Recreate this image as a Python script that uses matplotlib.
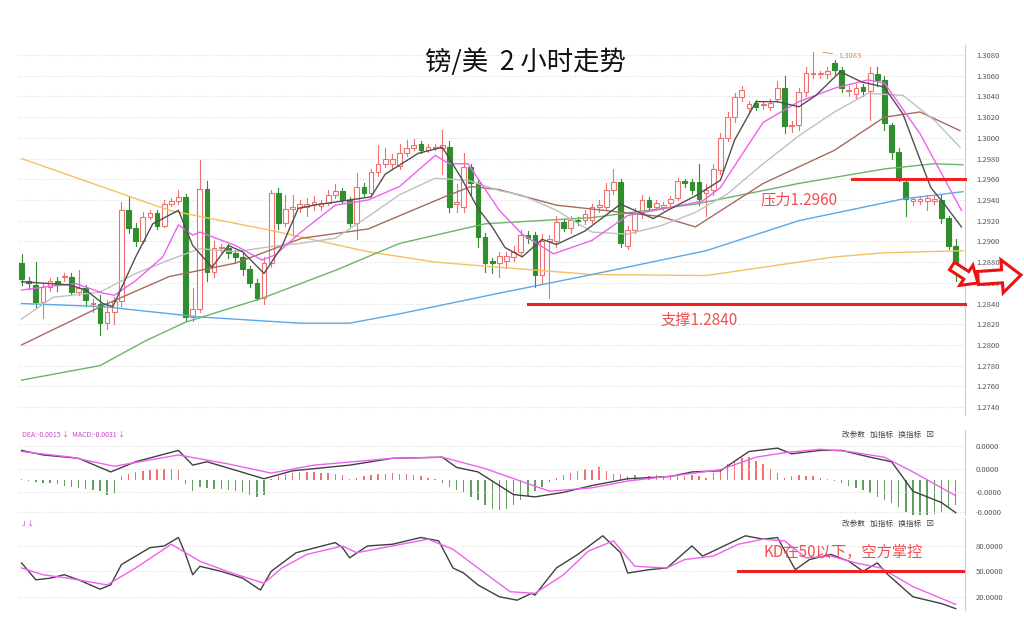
import matplotlib
matplotlib.use("Agg")
import matplotlib.pyplot as plt
from matplotlib.patches import Rectangle, FancyArrow
from matplotlib.transforms import IdentityTransform
import numpy as np

plt.rcParams['font.family'] = ['Noto Sans CJK SC', 'DejaVu Sans']

opens = [1.2879,1.2862,1.2858,1.2841,1.2856,1.2862,1.2866,1.2866,1.2851,1.2855,1.2840,1.2840,1.2821,1.2832,1.2842,1.2930,1.2913,1.2900,1.2924,1.2927,
 1.2915,1.2936,1.2939,1.2943,1.2827,1.2835,1.2951,1.2870,1.2894,1.2894,1.2889,1.2885,1.2873,1.2860,1.2845,1.2879,1.2947,1.2918,1.2931,1.2932,
 1.2933,1.2936,1.2934,1.2937,1.2945,1.2949,1.2940,1.2918,1.2953,1.2947,1.2967,1.2975,1.2975,1.2973,1.2985,1.2990,1.2994,1.2988,1.2991,1.2990,
 1.2991,1.2937,1.2933,1.2972,1.2956,1.2904,1.2881,1.2879,1.2881,1.2885,1.2890,1.2906,1.2906,1.2868,1.2900,1.2900,1.2919,1.2913,1.2921,1.2921,
 1.2921,1.2933,1.2933,1.2950,1.2957,1.2896,1.2911,1.2927,1.2940,1.2933,1.2933,1.2937,1.2942,1.2958,1.2957,1.2957,1.2947,1.2950,1.2969,1.3000,
 1.3020,1.3039,1.3029,1.3034,1.3032,1.3030,1.3038,1.3048,1.3012,1.3012,1.3044,1.3062,1.3062,1.3062,1.3072,1.3066,1.3046,1.3042,1.3049,1.3045,
 1.3062,1.3056,1.3012,1.2986,1.2957,1.2940,1.2940,1.2939,1.2940,1.2940,1.2923,1.2896]
closes = [1.2864,1.2860,1.2841,1.2856,1.2862,1.2858,1.2866,1.2851,1.2855,1.2843,1.2840,1.2821,1.2832,1.2842,1.2930,1.2913,1.2900,1.2924,1.2927,1.2915,
 1.2936,1.2939,1.2943,1.2827,1.2835,1.2951,1.2870,1.2894,1.2894,1.2889,1.2885,1.2873,1.2860,1.2845,1.2879,1.2947,1.2918,1.2931,1.2933,1.2936,
 1.2936,1.2938,1.2937,1.2945,1.2949,1.2940,1.2918,1.2953,1.2947,1.2967,1.2975,1.2980,1.2980,1.2985,1.2990,1.2993,1.2988,1.2991,1.2991,1.2993,
 1.2933,1.2937,1.2972,1.2956,1.2904,1.2879,1.2879,1.2886,1.2886,1.2890,1.2906,1.2903,1.2868,1.2900,1.2902,1.2919,1.2913,1.2921,1.2920,1.2926,
 1.2933,1.2935,1.2950,1.2957,1.2898,1.2911,1.2927,1.2940,1.2933,1.2937,1.2935,1.2941,1.2958,1.2956,1.2950,1.2941,1.2950,1.2970,1.3000,1.3020,
 1.3039,1.3046,1.3033,1.3030,1.3032,1.3034,1.3048,1.3011,1.3012,1.3044,1.3063,1.3062,1.3062,1.3065,1.3066,1.3048,1.3046,1.3048,1.3045,1.3063,
 1.3056,1.3014,1.2986,1.2961,1.2941,1.2940,1.2940,1.2942,1.2940,1.2923,1.2896,1.2872]
highs = [1.2888,1.2866,1.2880,1.2860,1.2865,1.2866,1.2869,1.2869,1.2872,1.2858,1.2844,1.2848,1.2843,1.2846,1.2938,1.2943,1.2918,1.2928,1.2930,1.2930,
 1.2940,1.2942,1.2950,1.2946,1.2855,1.2979,1.2958,1.2900,1.2897,1.2897,1.2892,1.2889,1.2876,1.2864,1.2885,1.2950,1.2952,1.2945,1.2945,1.2940,
 1.2942,1.2944,1.2940,1.2950,1.2955,1.2952,1.2943,1.2966,1.2956,1.2970,1.2993,1.2990,1.2984,1.2994,1.2998,1.2999,1.2997,1.2994,1.2994,1.3008,
 1.2997,1.2955,1.2985,1.2975,1.2960,1.2908,1.2884,1.2890,1.2890,1.2896,1.2911,1.2910,1.2909,1.2907,1.2906,1.2925,1.2922,1.2925,1.2924,1.2930,
 1.2936,1.2940,1.2956,1.2970,1.2960,1.2915,1.2932,1.2945,1.2943,1.2940,1.2938,1.2944,1.2961,1.2960,1.2960,1.2975,1.2955,1.2975,1.3005,1.3025,
 1.3043,1.3050,1.3036,1.3037,1.3035,1.3038,1.3055,1.3060,1.3016,1.3048,1.3068,1.3083,1.3065,1.3068,1.3075,1.3068,1.3050,1.3052,1.3052,1.3068,
 1.3068,1.3060,1.3014,1.2990,1.2960,1.2943,1.2944,1.2945,1.2945,1.2945,1.2925,1.2902]
lows = [1.2858,1.2854,1.2836,1.2826,1.2852,1.2852,1.2862,1.2848,1.2848,1.2838,1.2832,1.2810,1.2815,1.2820,1.2838,1.2908,1.2896,1.2898,1.2922,1.2912,
 1.2914,1.2934,1.2936,1.2823,1.2823,1.2832,1.2862,1.2866,1.2890,1.2884,1.2880,1.2868,1.2856,1.2843,1.2840,1.2875,1.2912,1.2915,1.2905,1.2928,
 1.2925,1.2930,1.2930,1.2935,1.2942,1.2937,1.2915,1.2902,1.2944,1.2944,1.2963,1.2972,1.2970,1.2970,1.2982,1.2988,1.2985,1.2986,1.2988,1.2965,
 1.2928,1.2928,1.2928,1.2945,1.2895,1.2870,1.2869,1.2866,1.2874,1.2881,1.2887,1.2898,1.2856,1.2860,1.2845,1.2895,1.2910,1.2908,1.2916,1.2917,
 1.2918,1.2928,1.2930,1.2946,1.2895,1.2893,1.2908,1.2923,1.2930,1.2930,1.2930,1.2934,1.2940,1.2953,1.2946,1.2935,1.2925,1.2945,1.2965,1.2997,
 1.3015,1.3036,1.3025,1.3027,1.3028,1.3027,1.3035,1.3005,1.3006,1.3008,1.3040,1.3058,1.3058,1.3058,1.3062,1.3044,1.3040,1.3038,1.3040,1.3017,
 1.3050,1.3008,1.2980,1.2958,1.2925,1.2935,1.2936,1.2930,1.2936,1.2918,1.2893,1.2862]

# moving averages (read at sample points): candle index, price
ma5_i = [0,6.7,9,11.4,12.8,16,18.4,22,24,26.7,29,31,34,36.5,38.8,41,46,49,51,55.6,59,61.6,64,66,67.8,70.2,73,75,79,84,88.6,90.6,94.5,98,100,103,106,109,111.4,114.8,117.8,121,123.6,125.5,127.5,129.4,131.8]
ma5_v = [1.2861,1.2858,1.2853,1.2840,1.2837,1.2885,1.2917,1.2930,1.2896,1.2875,1.2896,1.2890,1.2869,1.2895,1.2932,1.2935,1.2940,1.2943,1.2965,1.2985,1.2991,1.2962,1.2932,1.2914,1.2894,1.2885,1.2902,1.2897,1.2910,1.2936,1.2922,1.2930,1.2944,1.2959,1.2998,1.3035,1.3035,1.3030,1.3041,1.3064,1.3054,1.3049,1.3023,1.2988,1.2952,1.2936,1.2914]
ma10_i = [0,4.4,7.7,11.4,13,16,19.8,22,24,25,30,33.7,35.6,39,44,48.6,53,58,60,62.6,67,70.2,74.6,80,85,89.6,95.5,98,101.7,104,109,114,118.7,121,126,131.8]
ma10_v = [1.2853,1.2857,1.2859,1.2850,1.2848,1.2862,1.2885,1.2916,1.2906,1.2909,1.2896,1.2882,1.2887,1.2908,1.2935,1.2940,1.2953,1.2983,1.2975,1.2975,1.2930,1.2907,1.2888,1.2901,1.2925,1.2931,1.2939,1.2952,1.2991,1.3015,1.3035,1.3048,1.3056,1.3053,1.3004,1.2930]
ma20_i = [0,4.4,11,16,20.7,25,30,35,39,44,48.6,53,58,62.6,67,70,75,80,85,89.6,94.5,99,104,109,114,118.7,123.6,128,131.6]
ma20_v = [1.2825,1.2846,1.2851,1.2869,1.2882,1.2893,1.2890,1.2895,1.2898,1.2903,1.2924,1.2945,1.2961,1.2959,1.2949,1.2945,1.2930,1.2909,1.2907,1.2915,1.2928,1.2946,1.2975,1.3002,1.3025,1.3043,1.3041,1.3017,1.2991]
ma30_i = [0,11.4,20.7,30,39.3,48.6,59.3,63,67,75,89.6,94.5,104,114,121,126,131.6]
ma30_v = [1.2800,1.2838,1.2866,1.2879,1.2903,1.2912,1.2943,1.2953,1.2950,1.2935,1.2924,1.2914,1.2956,1.2988,1.3020,1.3025,1.3007]
ma60_i = [0,11,17.4,23,33.7,44,53,65,80,94.5,109,121,128,132]
ma60_v = [1.2766,1.2780,1.2804,1.2822,1.2845,1.2872,1.2898,1.2917,1.2923,1.2936,1.2956,1.2970,1.2975,1.2974]
ma120_i = [0,11.4,25,39,46,53,67,80,96,109,123.6,132]
ma120_v = [1.2840,1.2837,1.2827,1.2821,1.2821,1.2830,1.2850,1.2868,1.2891,1.2920,1.2941,1.2948]
ma250_i = [0,20.7,34.7,48.6,58,67,80,96,104,114,121,132]
ma250_v = [1.2980,1.2930,1.2911,1.2890,1.2880,1.2875,1.2868,1.2867,1.2875,1.2885,1.2889,1.2891]

# MACD (units of 0.0001)
macd_hist = [1,-1,-2,-3,-3,-4,-5,-6,-7,-8,-9,-10,-13,-12,
 3,5,7,8,9,10,10,10,9,
 -4,-10,-6,-7,-8,-8,-9,-10,-12,-13,-15,-13,
 1,3,5,6,7,7,7,6,6,5,4, 1,2,
 3,4,5,5,6,5,5,4,3,2,1,
 -3,-6,-9,-12,-15,-18,-22,-26,-27,-26,-22,-18,-14,-10,-6,-2,
 2,4,6,8,10,9,11,8,5,
 5,3,4,2,3,4,3,4,3,3,4,3,2,
 6,10,14,17,19,20,17,14,10,6,
 2,3,4,3,3,2,1,-1,
 -3,-5,-7,-9,-12,-15,-18,-20,-24,-28,-32,-33,-32,-30,-28,-25,-22]
dif_i = [0,3,8,12.5,16,22,24,26,34,38,46,52,59,61,64,69,72,76,80,85,91,94,98,102,106,108,112,115,119,122,125,129,131]
dif_v = [26,22,19,7,16,26,13,16,1,8,13,19,20,11,7,-13,-15,-11,-5,1,3,7,8,25,28,23,26,26,20,16,-10,-20,-29]
dea_i = [0,7,13,22,29,35,41,52,59,65,74,80,85,92,98,103,107,112,116,121,125,131]
dea_v = [25,20,12,22,14,6,13,19,20,10,-10,-7,-1,4,9,20,24,27,25,20,7,-14]

# KD
k_i = [0,2,4,6,8,11,12.5,14,16,18,20,22,23,24,25,28,31,33.5,35,38.5,44,45,46,48.5,52,56,58.5,60.5,62,64,67,69.5,71.5,72,75,78,81.5,84,85,88,90.5,94,95.5,97,100,101.5,104,106,108.5,110.5,113.5,116,118,120,121.5,125,129,131]
k_v = [60,40,42,46,40,29,34,58,68,78,80,90,70,46,56,50,42,28,50,72,84,78,66,80,82,90,86,54,48,34,20,16,24,22,54,70,92,72,48,52,54,80,68,74,86,92,88,90,52,64,70,62,50,60,46,20,12,6]
d_i = [0,3,6.5,12,16,21,25,29.5,34,36.5,40,45,47,52,57,60.5,64,68.5,72,76,79.5,83,86,90.5,93,97,100.5,104,107,110,113.5,117,120.5,125,131]
d_v = [54,46,42,34,54,82,62,48,36,54,70,80,72,80,88,76,54,26,24,46,74,86,56,54,64,68,82,88,86,66,68,60,54,32,11]

W, H = 1024, 619
fig = plt.figure(figsize=(W/100, H/100), dpi=100)
fig.patch.set_facecolor('white')

def fx(px): return px / W
def fy(py): return 1 - py / H

L, R = 18, 965
ax = fig.add_axes([fx(L), fy(415), fx(R-L), (415-45)/H])
ax2 = fig.add_axes([fx(L), fy(515), fx(R-L), (515-430)/H])
ax3 = fig.add_axes([fx(L), fy(610), fx(R-L), (610-518)/H])

RED = '#f07070'
GRN = '#2f8f2f'
n = len(closes)
x = np.arange(n)
for i in range(n):
    o, c, h, l = opens[i], closes[i], highs[i], lows[i]
    up = c >= o
    col = RED if up else GRN
    ax.plot([i, i], [l, h], color=col, lw=0.8, zorder=2)
    body = max(abs(c - o), 0.00012)
    y0 = min(o, c) if abs(c - o) >= 0.00012 else (o + c) / 2 - 0.00006
    ax.add_patch(Rectangle((i - 0.33, y0), 0.66, body, facecolor='white' if up else GRN,
                           edgecolor=col, lw=0.8, zorder=3))

for xi, yv, col in [(ma250_i, ma250_v, '#f5c060'), (ma120_i, ma120_v, '#5aa8e8'),
                    (ma60_i, ma60_v, '#6ab56a'), (ma30_i, ma30_v, '#a86a60'),
                    (ma20_i, ma20_v, '#c0c0c0'), (ma10_i, ma10_v, '#f060f0'),
                    (ma5_i, ma5_v, '#505050')]:
    ax.plot(xi, yv, color=col, lw=1.0, zorder=4)

ax.set_xlim(-0.5, 132.3)
ax.set_ylim(1.27323, 1.30897)
yt = np.round(np.arange(1.2740, 1.3081, 0.002), 4)
ax.set_yticks(yt)
ax.set_yticklabels([f'{v:.4f}' for v in yt])
for a in (ax, ax2, ax3):
    a.yaxis.tick_right()
    a.tick_params(axis='y', labelsize=5.5, colors='#555555', length=0, pad=8)
    a.set_xticks([])
    for s in ['top', 'left', 'bottom']:
        a.spines[s].set_visible(False)
    a.spines['right'].set_color('#cccccc')
    a.grid(axis='y', color='#dddddd', ls=':', lw=0.8)
    a.set_facecolor('white')

# support / resistance
ax.plot([71, 132.3], [1.2840, 1.2840], color='#ee2222', lw=2.2, zorder=6, clip_on=False)
ax.plot([116.5, 132.3], [1.2960, 1.2960], color='#ee2222', lw=2.2, zorder=6, clip_on=False)
ax.text(109, 1.2940, '压力1.2960', color='#f05050', fontsize=11, ha='center', va='center', zorder=7)
ax.text(95, 1.2824, '支撑1.2840', color='#f05050', fontsize=11, ha='center', va='center', zorder=7)
ax.annotate('1.3083', xy=(112, 1.3083), xytext=(114.5, 1.3079), fontsize=5.5, color='#f08040',
            va='center', arrowprops=dict(arrowstyle='-', color='#f08040', lw=0.6))
fig.text(fx(525), fy(62), '镑/美  2 小时走势', fontsize=19, ha='center', va='center', color='#111111')

# MACD
ax2.bar(x, macd_hist, width=0.2, color=[RED if v > 0 else '#5fa05f' for v in macd_hist])
ax2.plot(dif_i, dif_v, color='#404040', lw=1.0)
ax2.plot(dea_i, dea_v, color='#f060f0', lw=1.0)
ax2.set_xlim(-0.5, 132.3)
ax2.set_ylim(-31, 44)
ax2.set_yticks([30, 10, -11, -28])
ax2.set_yticklabels(['0.0000', '0.0000', '-0.0000', '-0.0000'])
ax2.text(0, 40, 'DEA:-0.0015 ↓  MACD:-0.0031 ↓', fontsize=5, color='#cc44cc', va='center')
ax2.text(128, 40, '改参数   加指标   换指标   ⊠', fontsize=5.5, color='#444444', va='center', ha='right')

# KD
ax3.plot(k_i, k_v, color='#404040', lw=1.0)
ax3.plot(d_i, d_v, color='#f060f0', lw=1.0)
ax3.set_xlim(-0.5, 132.3)
ax3.set_ylim(4.4, 113)
ax3.set_yticks([80, 50, 20])
ax3.set_yticklabels(['80.0000', '50.0000', '20.0000'])
ax3.plot([100.5, 132.3], [50, 50], color='#ee2222', lw=2.2, zorder=6)
ax3.text(104, 72, 'KD在50以下，空方掌控', color='#f05050', fontsize=11, va='center', ha='left')
ax3.text(0, 106, 'J ↓', fontsize=5, color='#cc44cc', va='center')
ax3.text(128, 106, '改参数   加指标   换指标   ⊠', fontsize=5.5, color='#444444', va='center', ha='right')

# hollow arrows (pixel coordinates, y from top)
def parr(x0, y0, x1, y1, w, hw, hl):
    fig.patches.append(FancyArrow(x0, H - y0, x1 - x0, -(y1 - y0), width=w, head_width=hw,
                                  head_length=hl, length_includes_head=True,
                                  facecolor='white', edgecolor='#ee1111', lw=2.2,
                                  transform=IdentityTransform(), figure=fig, zorder=10))
parr(952, 266, 978, 283, 9, 24, 14)
parr(978, 278, 1021, 275, 13, 33, 19)

fig.savefig('out.png', dpi=100)
